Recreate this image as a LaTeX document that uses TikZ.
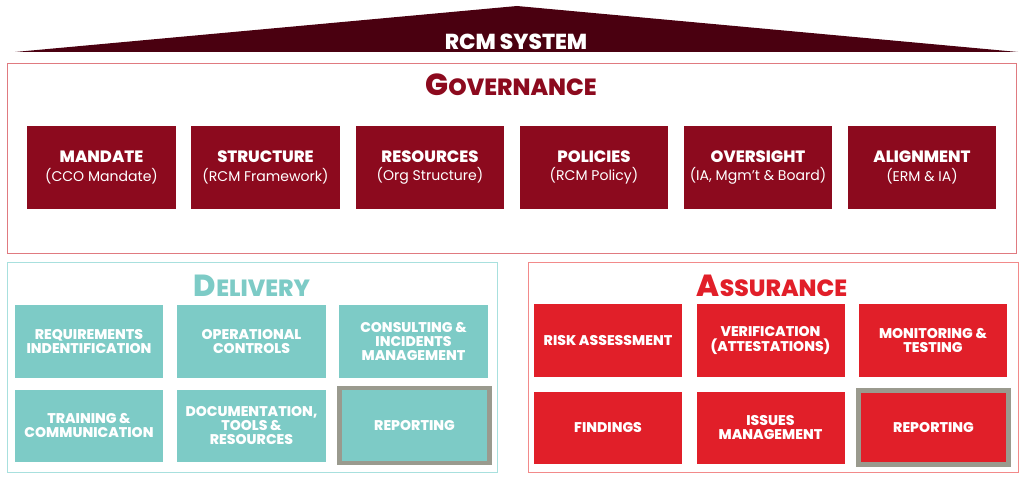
\documentclass[tikz,border=0pt]{standalone}
\usepackage{fontspec}
\setmainfont{Poppins}[BoldFont={Poppins ExtraBold}]
\definecolor{roofred}{HTML}{4A0010}
\definecolor{govred}{HTML}{8C0A1E}
\definecolor{govline}{HTML}{E07A80}
\definecolor{delteal}{HTML}{7DCBC6}
\definecolor{delline}{HTML}{A8E0DE}
\definecolor{assred}{HTML}{E11F29}
\definecolor{assline}{HTML}{F28A8A}
\definecolor{framegray}{HTML}{9A9A8E}
\begin{document}
\begin{tikzpicture}[x=0.03cm, y=-0.03cm,
    frame/.style={rectangle, draw, line width=0.8pt, inner sep=0pt, minimum width=14.7cm, minimum height=6.3cm},
    govbox/.style={rectangle, fill=govred, text=white, align=center, inner sep=0pt, minimum width=4.44cm, minimum height=2.49cm},
    cell/.style={rectangle, text=white, align=center, inner sep=0pt, minimum width=4.44cm, minimum height=2.16cm,
        font=\fontsize{12}{12.3}\selectfont\bfseries},
    delbox/.style={cell, fill=delteal},
    assbox/.style={cell, fill=assred},
    repbox/.style={draw=framegray, line width=4.25pt, minimum width=4.5cm, minimum height=2.25cm},
    heading/.style={font=\bfseries, inner sep=0pt}]
\useasboundingbox (0,0) rectangle (1024,479);
% roof
\coordinate (roofL) at (15,52);
\coordinate (roofT) at (517,6);
\coordinate (roofR) at (1018,52);
\fill[roofred] (roofL) -- (roofT) -- (roofR) -- cycle;
\node[heading, text=white, font=\fontsize{18.5}{20}\selectfont\bfseries] (rcm) at (516,42) {RCM SYSTEM};
% governance
\node[frame, draw=govline, minimum width=30.27cm, minimum height=5.7cm] (gov) at (511.5,158) {};
\node[heading, text=govred] (govtitle) at (511,85) {{\fontsize{26}{28}\selectfont G}{\fontsize{20}{22}\selectfont OVERNANCE}};
\node[govbox] (mandate) at (101.5,167.5) {{\fontsize{14}{15}\selectfont\bfseries MANDATE}\\[4pt]{\fontsize{12}{13}\selectfont (CCO Mandate)}};
\node[govbox] (structure) at (265.5,167.5) {{\fontsize{14}{15}\selectfont\bfseries STRUCTURE}\\[4pt]{\fontsize{12}{13}\selectfont (RCM Framework)}};
\node[govbox] (resources) at (430,167.5) {{\fontsize{14}{15}\selectfont\bfseries RESOURCES}\\[4pt]{\fontsize{12}{13}\selectfont (Org Structure)}};
\node[govbox] (policies) at (594,167.5) {{\fontsize{14}{15}\selectfont\bfseries POLICIES}\\[4pt]{\fontsize{12}{13}\selectfont (RCM Policy)}};
\node[govbox] (oversight) at (758,167.5) {{\fontsize{14}{15}\selectfont\bfseries OVERSIGHT}\\[4pt]{\fontsize{12}{13}\selectfont (IA, Mgm't \& Board)}};
\node[govbox] (alignment) at (922,167.5) {{\fontsize{14}{15}\selectfont\bfseries ALIGNMENT}\\[4pt]{\fontsize{12}{13}\selectfont (ERM \& IA)}};
% delivery
\node[frame, draw=delline] (del) at (252,367) {};
\node[heading, text=delteal] (deltitle) at (252,286) {{\fontsize{26}{28}\selectfont D}{\fontsize{20}{22}\selectfont ELIVERY}};
\node[delbox] (requirements) at (89,341.5) {REQUIREMENTS\\INDENTIFICATION};
\node[delbox] (operational) at (251.5,341.5) {OPERATIONAL\\CONTROLS};
\node[delbox] (consulting) at (413.5,341.5) {CONSULTING \&\\INCIDENTS\\MANAGEMENT};
\node[delbox] (training) at (89,425.5) {TRAINING \&\\COMMUNICATION};
\node[delbox] (documentation) at (251.5,425.5) {DOCUMENTATION,\\TOOLS \&\\RESOURCES};
\node[delbox, repbox] (delreporting) at (414.5,425.5) {REPORTING};
% assurance
\node[frame, draw=assline] (ass) at (773,367) {};
\node[heading, text=assred] (asstitle) at (772,286) {{\fontsize{26}{28}\selectfont A}{\fontsize{20}{22}\selectfont SSURANCE}};
\node[assbox] (risk) at (608,340.5) {RISK ASSESSMENT};
\node[assbox] (verification) at (770.5,340.5) {VERIFICATION\\(ATTESTATIONS)};
\node[assbox] (monitoring) at (933,340.5) {MONITORING \&\\TESTING};
\node[assbox] (findings) at (608,427.5) {FINDINGS};
\node[assbox] (issues) at (770.5,427.5) {ISSUES\\MANAGEMENT};
\node[assbox, repbox, minimum height=2.22cm] (assreporting) at (933.5,427.5) {REPORTING};
\end{tikzpicture}
\end{document}
